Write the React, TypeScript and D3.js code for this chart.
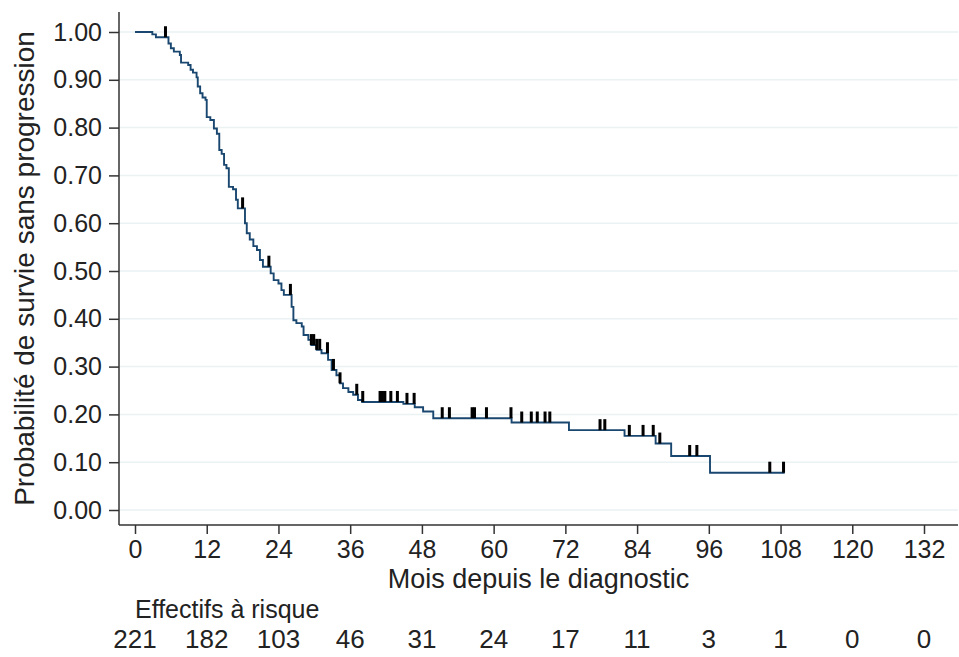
import React, { useEffect, useRef } from 'react'
import * as d3 from 'd3'

// Kaplan-Meier steps: time of drop (months) and survival after the drop
const stepTimes = [
  0, 2.9, 3.5, 5.6, 6.0, 6.5, 7.5, 7.7, 8.9, 9.3, 9.7, 10.3, 10.5, 10.9, 11.3, 11.8,
  12.0, 12.6, 13.2, 13.7, 14.1, 14.5, 14.9, 15.3, 15.7, 16.4, 16.9, 17.2, 18.4, 18.7,
  19.2, 19.8, 20.4, 20.9, 21.4, 22.7, 23.2, 24.0, 24.5, 24.9, 26.2, 26.5, 27.0, 27.9,
  28.2, 29.0, 29.5, 30.4, 31.2, 32.3, 32.9, 33.7, 34.3, 34.8, 35.7, 36.5, 37.3, 38.0,
  44.9, 46.8, 48.2, 49.9, 63.0, 72.6, 81.9, 87.1, 89.7, 96.2,
]
const stepSurvival = [
  1.0, 0.995, 0.989, 0.976, 0.966, 0.959, 0.952, 0.936, 0.931, 0.921, 0.915, 0.905, 0.886, 0.872, 0.863, 0.858,
  0.822, 0.816, 0.798, 0.787, 0.753, 0.745, 0.722, 0.715, 0.676, 0.671, 0.649, 0.631, 0.6, 0.579,
  0.566, 0.552, 0.544, 0.523, 0.509, 0.495, 0.481, 0.474, 0.46, 0.45, 0.425, 0.397, 0.391, 0.384,
  0.366, 0.356, 0.345, 0.335, 0.328, 0.314, 0.293, 0.282, 0.265, 0.255, 0.247, 0.241, 0.23, 0.226,
  0.222, 0.215, 0.206, 0.192, 0.183, 0.167, 0.155, 0.139, 0.113, 0.078,
]
const lastTime = 108.7

// censored observations (months)
const censorTimes = [
  5.1, 18.0, 22.4, 26.0, 29.5, 29.9, 30.4, 30.9, 32.2, 33.2, 34.3, 37.1, 38.1, 41.0, 41.4,
  41.8, 42.8, 43.9, 45.5, 46.7, 51.4, 52.6, 56.4, 56.8, 58.8, 62.9, 64.7, 66.3, 67.3, 68.6,
  69.4, 77.8, 78.6, 82.7, 85.0, 86.7, 87.8, 92.8, 94.0, 106.2, 108.5,
]

const xTicks = [0, 12, 24, 36, 48, 60, 72, 84, 96, 108, 120, 132]
const yTicks = [0, 0.1, 0.2, 0.3, 0.4, 0.5, 0.6, 0.7, 0.8, 0.9, 1.0]
const atRisk = [221, 182, 103, 46, 31, 24, 17, 11, 3, 1, 0, 0]

const W = 959
const H = 657
const FONT = "'Liberation Sans', Arial, sans-serif"

export default function App() {
  const svgRef = useRef<SVGSVGElement>(null)

  useEffect(() => {
    if (!svgRef.current) return
    const svg = d3.select(svgRef.current)
    svg.selectAll('*').remove()

    const x = d3.scaleLinear().domain([0, 132]).range([135, 924])
    const y = d3.scaleLinear().domain([0, 1]).range([510, 32])
    const axisLeftX = 119
    const axisBottomY = 525
    const plotRight = 958
    const plotTop = 12

    svg.append('rect').attr('width', W).attr('height', H).attr('fill', '#ffffff')

    // grid
    svg.append('g')
      .selectAll('line')
      .data(yTicks)
      .join('line')
      .attr('x1', axisLeftX)
      .attr('x2', plotRight)
      .attr('y1', d => y(d))
      .attr('y2', d => y(d))
      .attr('stroke', '#eaf2f3')
      .attr('stroke-width', 1.5)

    // y axis
    const yAxis = svg.append('g')
      .attr('transform', `translate(${axisLeftX},0)`)
      .call(d3.axisLeft(y).tickValues(yTicks).tickSize(10).tickPadding(7).tickFormat(d => (d as number).toFixed(2)))
    yAxis.select('.domain').remove()
    yAxis.selectAll('line').attr('stroke', '#333').attr('stroke-width', 1.5)
    yAxis.selectAll('text')
      .attr('fill', '#222')
      .style('font-family', FONT)
      .style('font-size', '25px')
    svg.append('line')
      .attr('x1', axisLeftX).attr('x2', axisLeftX)
      .attr('y1', plotTop).attr('y2', axisBottomY)
      .attr('stroke', '#333').attr('stroke-width', 1.5)

    // x axis
    const xAxis = svg.append('g')
      .attr('transform', `translate(0,${axisBottomY})`)
      .call(d3.axisBottom(x).tickValues(xTicks).tickSize(9).tickFormat(d => `${d}`))
    xAxis.select('.domain').remove()
    xAxis.selectAll('line').attr('stroke', '#333').attr('stroke-width', 1.5)
    xAxis.selectAll('text')
      .attr('y', 33)
      .attr('dy', 0)
      .attr('fill', '#222')
      .style('font-family', FONT)
      .style('font-size', '25px')
    svg.append('line')
      .attr('x1', axisLeftX).attr('x2', plotRight)
      .attr('y1', axisBottomY).attr('y2', axisBottomY)
      .attr('stroke', '#333').attr('stroke-width', 1.5)

    // titles
    svg.append('text')
      .attr('x', (axisLeftX + plotRight) / 2)
      .attr('y', 588)
      .attr('text-anchor', 'middle')
      .attr('fill', '#222')
      .style('font-family', FONT)
      .style('font-size', '27px')
      .text('Mois depuis le diagnostic')

    svg.append('text')
      .attr('transform', `translate(34,${(plotTop + axisBottomY) / 2}) rotate(-90)`)
      .attr('text-anchor', 'middle')
      .attr('fill', '#222')
      .style('font-family', FONT)
      .style('font-size', '28px')
      .text('Probabilité de survie sans progression')

    // number at risk
    svg.append('text')
      .attr('x', x(0))
      .attr('y', 618)
      .attr('fill', '#222')
      .style('font-family', FONT)
      .style('font-size', '25px')
      .text('Effectifs à risque')

    svg.append('g')
      .selectAll('text')
      .data(atRisk)
      .join('text')
      .attr('x', (_, i) => x(xTicks[i]))
      .attr('y', 648)
      .attr('text-anchor', 'middle')
      .attr('fill', '#222')
      .style('font-family', FONT)
      .style('font-size', '26px')
      .text(d => d)

    // KM curve
    const pts: [number, number][] = stepTimes.map((t, i) => [t, stepSurvival[i]])
    pts.push([lastTime, stepSurvival[stepSurvival.length - 1]])
    const line = d3.line<[number, number]>()
      .x(d => x(d[0]))
      .y(d => y(d[1]))
      .curve(d3.curveStepAfter)
    svg.append('path')
      .attr('d', line(pts) || '')
      .attr('fill', 'none')
      .attr('stroke', '#1a476f')
      .attr('stroke-width', 1.9)

    // censor marks
    const survAt = (t: number) => {
      const i = d3.bisectRight(stepTimes, t) - 1
      return stepSurvival[Math.max(0, i)]
    }
    svg.append('g')
      .selectAll('rect')
      .data(censorTimes)
      .join('rect')
      .attr('x', d => x(d) - 1.5)
      .attr('y', d => y(survAt(d)) - 11)
      .attr('width', 3)
      .attr('height', 11)
      .attr('fill', '#000')
  }, [])

  return (
    <div style={{ position: 'absolute', left: 0, top: 0 }}>
      <svg ref={svgRef} width={W} height={H} style={{ display: 'block' }} />
    </div>
  )
}
